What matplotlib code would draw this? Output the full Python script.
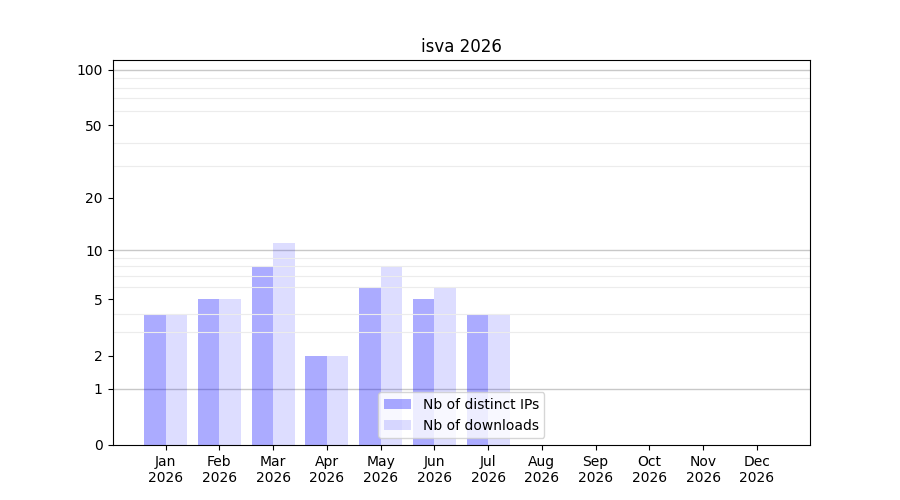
import numpy as np
import matplotlib
matplotlib.use('Agg')
import matplotlib.pyplot as plt
from matplotlib.ticker import FixedLocator, NullFormatter

months = ['Jan', 'Feb', 'Mar', 'Apr', 'May', 'Jun', 'Jul', 'Aug', 'Sep', 'Oct', 'Nov', 'Dec']
year = '2026'
ips = [4, 5, 8, 2, 6, 5, 4, 0, 0, 0, 0, 0]
downloads = [4, 5, 11, 2, 8, 6, 4, 0, 0, 0, 0, 0]
y_ticks = [0, 1, 2, 5, 10, 20, 50, 100]

fig, ax = plt.subplots(figsize=(9, 5), dpi=100)
fig.subplots_adjust(left=0.125, right=0.9, top=0.88, bottom=0.11)

ax.set_yscale('function', functions=(lambda v: np.log10(np.clip(v, 0, None) + 1),
                                     lambda v: 10 ** v - 1))

x = np.arange(len(months))
w = 0.4
ax.bar(x - w / 2, ips, w, color='blue', alpha=0.33, label='Nb of distinct IPs')
ax.bar(x + w / 2, downloads, w, color='blue', alpha=0.135, label='Nb of downloads')

ax.set_xticks(x)
ax.set_xticklabels([m + '\n' + year for m in months])

ax.yaxis.set_major_locator(FixedLocator(y_ticks))
ax.set_yticklabels([str(t) for t in y_ticks])
minor = list(range(2, 10)) + list(range(20, 100, 10))
ax.yaxis.set_minor_locator(FixedLocator(minor))
ax.yaxis.set_minor_formatter(NullFormatter())
ax.tick_params(axis='y', which='minor', length=0)
ax.grid(True, axis='y', which='minor', color='#ececec', linewidth=0.8)
for g in [1, 10, 100]:
    ax.axhline(g, color='#c8c8c8', linewidth=1, zorder=0.5)

ax.set_ylim(0, 113)
ax.set_title('isva 2026')
ax.legend(loc='lower center')

fig.savefig('out.png')
